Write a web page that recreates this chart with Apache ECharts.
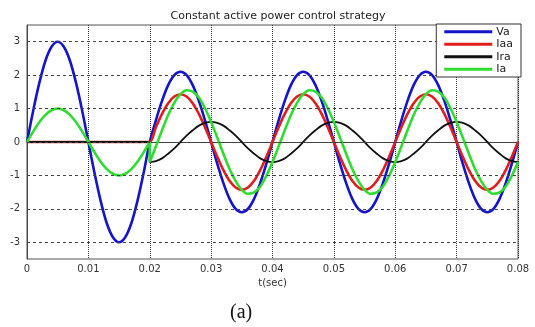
<!DOCTYPE html>
<html>
<head>
<meta charset="utf-8">
<script src="https://cdn.jsdelivr.net/npm/echarts@6/dist/echarts.min.js"></script>
<style>
  html, body { margin: 0; padding: 0; background: #fff; }
  #chart { width: 535px; height: 327px; }
</style>
</head>
<body>
<div id="chart"></div>
<script>
// sample times: 1 ms steps, 0.02 s appears twice (switching instant)
const time = []
for (let i = 0; i <= 20; i++) time.push(i / 1000)
for (let i = 20; i <= 80; i++) time.push(i / 1000)

// values, same order as time
const va = [
  0, 0.93, 1.76, 2.43, 2.85, 3.0, 2.85, 2.43, 1.76, 0.93, 0, -0.93, -1.76, -2.43, -2.85, -3.0, -2.85, -2.43, -1.76, -0.93, 0,
  0, 0.65, 1.23, 1.70, 2.00, 2.10, 2.00, 1.70, 1.23, 0.65, 0, -0.65, -1.23, -1.70, -2.00, -2.10, -2.00, -1.70, -1.23, -0.65,
  0, 0.65, 1.23, 1.70, 2.00, 2.10, 2.00, 1.70, 1.23, 0.65, 0, -0.65, -1.23, -1.70, -2.00, -2.10, -2.00, -1.70, -1.23, -0.65,
  0, 0.65, 1.23, 1.70, 2.00, 2.10, 2.00, 1.70, 1.23, 0.65, 0, -0.65, -1.23, -1.70, -2.00, -2.10, -2.00, -1.70, -1.23, -0.65,
  0,
]
const iaa = [
  0, 0, 0, 0, 0, 0, 0, 0, 0, 0, 0, 0, 0, 0, 0, 0, 0, 0, 0, 0, 0,
  0, 0.44, 0.84, 1.16, 1.36, 1.43, 1.36, 1.16, 0.84, 0.44, 0, -0.44, -0.84, -1.16, -1.36, -1.43, -1.36, -1.16, -0.84, -0.44,
  0, 0.44, 0.84, 1.16, 1.36, 1.43, 1.36, 1.16, 0.84, 0.44, 0, -0.44, -0.84, -1.16, -1.36, -1.43, -1.36, -1.16, -0.84, -0.44,
  0, 0.44, 0.84, 1.16, 1.36, 1.43, 1.36, 1.16, 0.84, 0.44, 0, -0.44, -0.84, -1.16, -1.36, -1.43, -1.36, -1.16, -0.84, -0.44,
  0,
]
const ira = [
  0, 0, 0, 0, 0, 0, 0, 0, 0, 0, 0, 0, 0, 0, 0, 0, 0, 0, 0, 0, 0,
  -0.60, -0.57, -0.49, -0.35, -0.19, 0, 0.19, 0.35, 0.49, 0.57, 0.60, 0.57, 0.49, 0.35, 0.19, 0, -0.19, -0.35, -0.49, -0.57,
  -0.60, -0.57, -0.49, -0.35, -0.19, 0, 0.19, 0.35, 0.49, 0.57, 0.60, 0.57, 0.49, 0.35, 0.19, 0, -0.19, -0.35, -0.49, -0.57,
  -0.60, -0.57, -0.49, -0.35, -0.19, 0, 0.19, 0.35, 0.49, 0.57, 0.60, 0.57, 0.49, 0.35, 0.19, 0, -0.19, -0.35, -0.49, -0.57,
  -0.60,
]
const ia = [
  0, 0.31, 0.59, 0.81, 0.95, 1.0, 0.95, 0.81, 0.59, 0.31, 0, -0.31, -0.59, -0.81, -0.95, -1.0, -0.95, -0.81, -0.59, -0.31, 0,
  -0.60, -0.13, 0.35, 0.81, 1.17, 1.43, 1.55, 1.51, 1.33, 1.01, 0.60, 0.13, -0.35, -0.81, -1.17, -1.43, -1.55, -1.51, -1.33, -1.01,
  -0.60, -0.13, 0.35, 0.81, 1.17, 1.43, 1.55, 1.51, 1.33, 1.01, 0.60, 0.13, -0.35, -0.81, -1.17, -1.43, -1.55, -1.51, -1.33, -1.01,
  -0.60, -0.13, 0.35, 0.81, 1.17, 1.43, 1.55, 1.51, 1.33, 1.01, 0.60, 0.13, -0.35, -0.81, -1.17, -1.43, -1.55, -1.51, -1.33, -1.01,
  -0.60,
]

const seriesNames = ['Va', 'Iaa', 'Ira', 'Ia']
const yTicks = [-3, -2, -1, 0, 1, 2, 3]

const chart = echarts.init(document.getElementById('chart'))

function pairs(values) {
  return values.map((v, i) => [time[i], v])
}

function lineSeries(name, values, color, width) {
  return {
    name,
    type: 'line',
    data: pairs(values),
    symbol: 'none',
    smooth: 0.3,
    z: 3,
    lineStyle: { color, width },
    itemStyle: { color },
  }
}

const font = 'DejaVu Sans'

chart.setOption({
  animation: false,
  title: {
    text: 'Constant active power control strategy',
    left: 273,
    top: 6,
    textAlign: 'center',
    textStyle: { fontFamily: font, fontSize: 11, fontWeight: 'normal', color: '#222' },
  },
  legend: {
    data: seriesNames,
    orient: 'vertical',
    right: 14,
    top: 24,
    icon: 'rect',
    itemWidth: 48,
    itemHeight: 3,
    itemGap: 1,
    padding: [2, 8, 2, 8],
    backgroundColor: '#fff',
    borderColor: '#333',
    borderWidth: 1,
    textStyle: {
      fontFamily: font,
      fontSize: 11,
      lineHeight: 11.5,
      color: '#222',
      padding: [0, 0, 0, -1],
    },
    z: 10,
  },
  grid: {
    left: 27,
    right: 17,
    top: 25,
    bottom: 68,
    show: true,
    borderColor: '#555',
    borderWidth: 1,
  },
  xAxis: {
    type: 'value',
    min: 0,
    max: 0.08,
    interval: 0.01,
    name: 't(sec)',
    nameLocation: 'middle',
    nameGap: 15,
    nameTextStyle: { fontFamily: font, fontSize: 10, color: '#333' },
    axisLine: { lineStyle: { color: '#444' } },
    axisTick: { show: false },
    axisLabel: { fontFamily: font, fontSize: 10, color: '#333', margin: 5 },
    splitLine: { show: true, lineStyle: { color: '#333', type: 'dotted', width: 1 } },
  },
  yAxis: {
    type: 'value',
    min: -3.5,
    max: 3.5,
    interval: 0.5,
    axisLine: { show: true, lineStyle: { color: '#444' } },
    axisTick: { show: false },
    axisLabel: {
      fontFamily: font,
      fontSize: 10,
      color: '#333',
      margin: 7,
      formatter: v => (Number.isInteger(v) ? String(v) : ''),
    },
    splitLine: { show: false },
  },
  series: [
    {
      name: 'grid',
      type: 'line',
      data: [[0, 0]],
      symbol: 'none',
      lineStyle: { opacity: 0 },
      z: 1,
      silent: true,
      markLine: {
        silent: true,
        symbol: ['none', 'none'],
        label: { show: false },
        lineStyle: { color: '#444', type: [3, 3], width: 1 },
        data: yTicks.map(v => ({ yAxis: v })),
      },
    },
    lineSeries('Va', va, '#1414c8', 2.6),
    lineSeries('Iaa', iaa, '#e01e1e', 2.6),
    lineSeries('Ira', ira, '#111111', 1.8),
    lineSeries('Ia', ia, '#30dc30', 2.6),
  ],
  graphic: [
    {
      type: 'text',
      left: 230,
      top: 303,
      style: { text: '(a)', font: '20px "Liberation Serif"', fill: '#111' },
    },
  ],
})

window.addEventListener('resize', () => chart.resize())
</script>
</body>
</html>
